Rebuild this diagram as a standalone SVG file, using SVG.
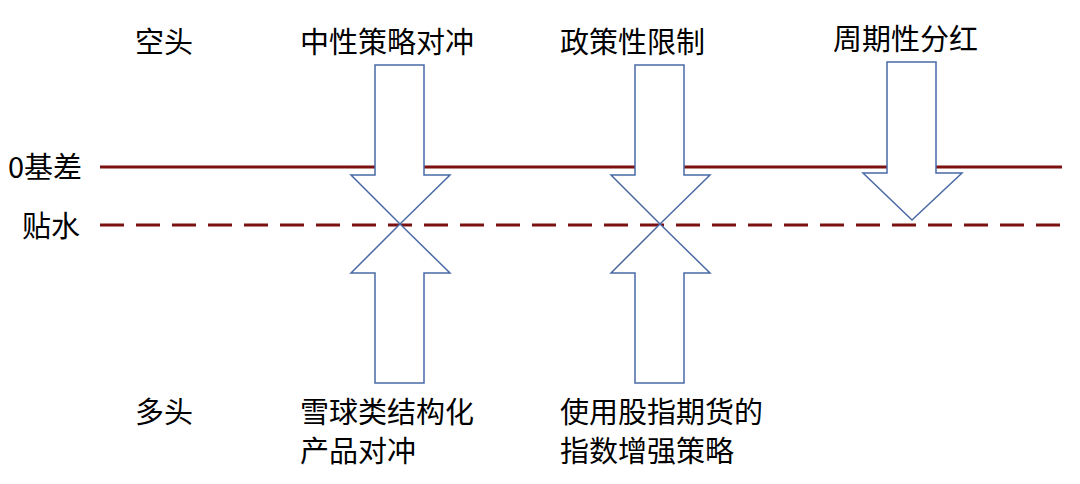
<svg xmlns="http://www.w3.org/2000/svg" width="1080" height="484" viewBox="0 0 1080 484">
<style>
text{font-family:"Noto Sans CJK SC","Noto Sans",sans-serif;font-size:29px;fill:#000}
.ar{fill:#fff;stroke:#4a6aa5;stroke-width:1.5}
.ln{stroke:#7b1111;stroke-width:3;fill:none}
</style>
<rect width="1080" height="484" fill="#fff"/>
<g id="connectors">
<line class="ln" x1="100" y1="167" x2="1062" y2="167"/>
<line class="ln" x1="100" y1="225" x2="1062" y2="225" stroke-dasharray="24,12"/>
</g>
<g id="a1"><polygon class="ar" points="375,65 424,65 424,175 450,175 400,224 351,175 375,175"/></g>
<g id="a2"><polygon class="ar" points="375,383 424,383 424,273 450,273 400,224 351,273 375,273"/></g>
<g id="a3"><polygon class="ar" points="635,65 684,65 684,175 710,175 660,224 611,175 635,175"/></g>
<g id="a4"><polygon class="ar" points="635,383 684,383 684,273 710,273 660,224 611,273 635,273"/></g>
<g id="a5"><polygon class="ar" points="887,62 936,62 936,173 962,173 912,220 863,173 887,173"/></g>
<g id="labels">
<text x="135" y="53">空头</text>
<text x="135" y="423">多头</text>
<text x="8" y="178">0基差</text>
<text x="22" y="237">贴水</text>
<text x="300" y="53">中性策略对冲</text>
<text x="560" y="53">政策性限制</text>
<text x="833" y="50">周期性分红</text>
<text x="300" y="423">雪球类结构化</text>
<text x="300" y="462">产品对冲</text>
<text x="560" y="423">使用股指期货的</text>
<text x="560" y="462">指数增强策略</text>
</g>
</svg>
